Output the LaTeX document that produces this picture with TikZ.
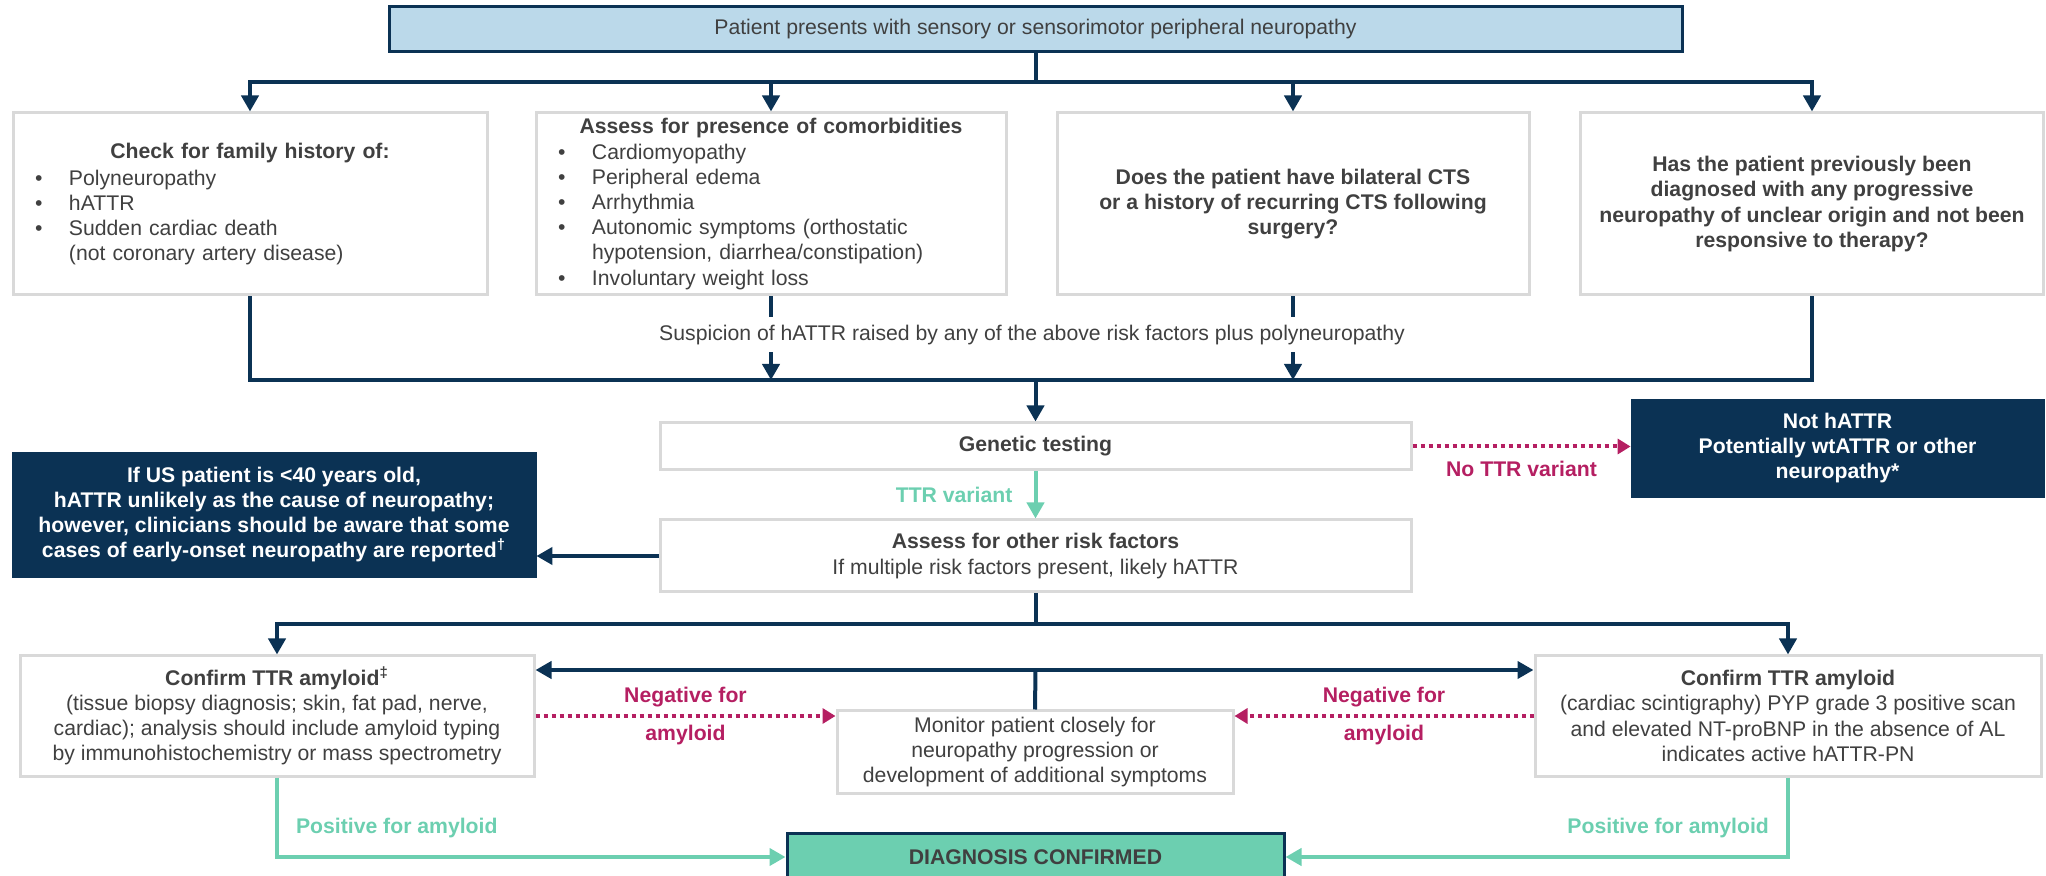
\documentclass[tikz,border=0pt]{standalone}
\usepackage{fontspec}
\setmainfont{Liberation Sans}
\usetikzlibrary{positioning,arrows.meta}
\definecolor{navy}{HTML}{0B3254}
\definecolor{skyfill}{HTML}{BBD9EA}
\definecolor{boxgray}{HTML}{D9D9D9}
\definecolor{txtgray}{HTML}{404040}
\definecolor{mint}{HTML}{6CCFB0}
\definecolor{berry}{HTML}{B51F62}
\newcommand{\bul}{\makebox[17pt][l]{\textbullet}}

\begin{document}
\fontsize{10.6}{12.6}\selectfont
\begin{tikzpicture}[x=0.5pt, y=-0.5pt,
    every node/.style={text=txtgray},
    topbox/.style={draw=navy, fill=skyfill, line width=1.5pt, minimum width=646.5pt, minimum height=22.5pt},
    whitebox/.style={draw=boxgray, fill=white, line width=1.5pt, align=center, inner sep=0pt},
    listbox/.style={whitebox, align=left, inner xsep=11pt, minimum height=91pt},
    navybox/.style={draw=navy, fill=navy, text=white, font=\bfseries, align=center, inner sep=0pt},
    diagbox/.style={draw=navy, fill=mint, line width=1.5pt, font=\bfseries, minimum width=248.5pt, minimum height=24pt},
    link/.style={draw=navy, line width=2pt},
    flow/.style={link, -{Triangle[width=8.5pt,length=8pt]}},
    yesflow/.style={draw=mint, line width=2pt, -{Triangle[width=8.5pt,length=8pt]}},
    noflow/.style={draw=berry, line width=2pt, dash pattern=on 2pt off 2pt, -{Triangle[width=7.5pt,length=6.5pt]}},
    yeslabel/.style={text=mint, font=\bfseries},
    nolabel/.style={text=berry, font=\bfseries}
]
\useasboundingbox (0,0) rectangle (2046,876);

% first row
\node[topbox](top) at (1035.5,29.5){Patient presents with sensory or sensorimotor peripheral neuropathy};
\node[listbox, text width=215pt](family) at (250,204){%
  \makebox[\hsize]{\bfseries Check for family history of:}\\[1pt]
  \bul Polyneuropathy\\
  \bul hATTR\\
  \bul Sudden cardiac death\\
  \hspace*{17pt}(not coronary artery disease)};
\node[listbox, text width=213pt](comorb) at (771,204){%
  \makebox[\hsize]{\bfseries Assess for presence of comorbidities}\\
  \bul Cardiomyopathy\\
  \bul Peripheral edema\\
  \bul Arrhythmia\\
  \bul Autonomic symptoms (orthostatic\\
  \hspace*{17pt}hypotension, diarrhea/constipation)\\
  \bul Involuntary weight loss};
\node[whitebox, font=\bfseries, minimum width=236pt, minimum height=91pt](cts) at (1293,204){Does the patient have bilateral CTS\\or a history of recurring CTS following\\surgery?};
\node[whitebox, font=\bfseries, minimum width=231.5pt, minimum height=91pt](hist) at (1812,204){Has the patient previously been\\diagnosed with any progressive\\neuropathy of unclear origin and not been\\responsive to therapy?};

% testing
\node[whitebox, font=\bfseries, minimum width=375.5pt, minimum height=23.5pt](genetic) at (1035.5,446.5){Genetic testing};
\node[whitebox, minimum width=375.5pt, minimum height=36pt](assess)[below=23.5pt of genetic]{\textbf{Assess for other risk factors}\\If multiple risk factors present, likely hATTR};
\node[navybox, minimum width=206.5pt, minimum height=49pt](nothattr) at (1837.5,448){Not hATTR\\Potentially wtATTR or other\\neuropathy*};
\node[navybox, minimum width=262pt, minimum height=62.5pt](young) at (274,514.5){If US patient is <40 years old,\\hATTR unlikely as the cause of neuropathy;\\however, clinicians should be aware that some\\cases of early-onset neuropathy are reported\textsuperscript{\textdagger}};

% confirmation
\node[whitebox, minimum width=257pt, minimum height=60pt](confL) at (277,716){\textbf{Confirm TTR amyloid\textsuperscript{\textdaggerdbl}}\\(tissue biopsy diagnosis; skin, fat pad, nerve,\\cardiac); analysis should include amyloid typing\\by immunohistochemistry or mass spectrometry};
\node[whitebox, minimum width=253pt, minimum height=60pt](confR) at (1788,716){\textbf{Confirm TTR amyloid}\\(cardiac scintigraphy) PYP grade 3 positive scan\\and elevated NT-proBNP in the absence of AL\\indicates active hATTR-PN};
\node[whitebox, minimum width=198pt, minimum height=41pt](monitor) at (1035,752){Monitor patient closely for\\neuropathy progression or\\development of additional symptoms};
\node[diagbox](diag) at (1035.5,857){DIAGNOSIS CONFIRMED};

% junctions
\coordinate (fork) at (1035.5,82);
\coordinate (merge) at (1035.5,380);
\coordinate (fork2) at (1035.5,624);
\coordinate (fork3) at (1035.5,670);

\draw[link] (top.south) -- (fork);
\draw[flow] (fork) -| (family.north);
\draw[flow] (fork) -| (comorb.north);
\draw[flow] (fork) -| (cts.north);
\draw[flow] (fork) -| (hist.north);

\draw[link] (family.south) |- (merge);
\draw[link] (hist.south) |- (merge);
\draw[flow] (comorb.south) -- (comorb.south |- merge);
\draw[flow] (cts.south) -- (cts.south |- merge);
\node[fill=white, inner xsep=2pt, minimum height=17.5pt](suspicion) at (1032,335){Suspicion of hATTR raised by any of the above risk factors plus polyneuropathy};
\draw[flow] (merge) -- (genetic.north);

\draw[yesflow] (genetic) -- node[yeslabel, left=7pt]{TTR variant} (assess);
\draw[noflow] (genetic.east) -- node[nolabel, below=3pt]{No TTR variant} (genetic.east -| nothattr.west);
\draw[flow] (assess.west) -- (assess.west -| young.east);

\draw[link] (assess.south) -- (fork2);
\draw[flow] (fork2) -| (confL.north);
\draw[flow] (fork2) -| (confR.north);

\draw[link] (monitor.north) -- (fork3);
\draw[flow] (fork3) -- (fork3 -| confL.east);
\draw[flow] (fork3) -- (fork3 -| confR.west);

\draw[noflow] (confL.east) -- node[nolabel, above]{Negative for} node[nolabel, below]{amyloid} (confL.east -| monitor.west);
\draw[noflow] (confR.west) -- node[nolabel, above]{Negative for} node[nolabel, below]{amyloid} (confR.west -| monitor.east);

\draw[yesflow] (confL.south) |- node[yeslabel, pos=0.5, anchor=south west, shift={(5pt,5pt)}]{Positive for amyloid} (diag.west);
\draw[yesflow] (confR.south) |- node[yeslabel, pos=0.5, anchor=south east, shift={(-5pt,5pt)}]{Positive for amyloid} (diag.east);
\end{tikzpicture}
\end{document}
